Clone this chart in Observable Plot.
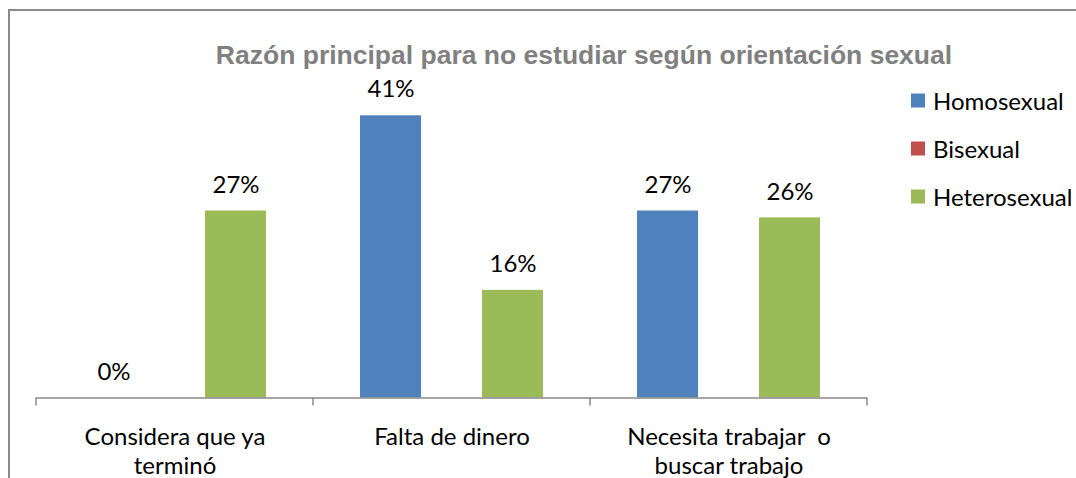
<!DOCTYPE html>
<html>
<head>
<meta charset="utf-8">
<script src="https://cdn.jsdelivr.net/npm/d3@7"></script>
<script src="https://cdn.jsdelivr.net/npm/@observablehq/plot@0.6"></script>
<style>
  html, body { margin: 0; padding: 0; background: #fff; }
  #wrap { position: relative; width: 1076px; height: 478px; overflow: hidden; background: #fff; }
  #border { position: absolute; left: 8px; top: 9px; width: 1200px; height: 600px; border: 2px solid #8a8a8a; box-sizing: border-box; }
  #title { position: absolute; left: 584px; top: 42px; transform: translateX(-50%); white-space: nowrap;
           font-family: "Liberation Sans", Arial, sans-serif; font-weight: bold; font-size: 26.5px; line-height: 1; color: #808080; }
  #chart { position: absolute; left: 0; top: 0; }
  #legend { position: absolute; left: 911px; top: 0; font-family: Lato, sans-serif; font-size: 24px; color: #000; }
  .item { position: absolute; left: 0; display: flex; align-items: center; white-space: nowrap; transform: translateY(-50%); }
  .sw { width: 14px; height: 14px; margin-right: 8px; }
</style>
</head>
<body>
<div id="wrap">
  <div id="border"></div>
  <div id="chart"></div>
  <div id="title"></div>
  <div id="legend"></div>
</div>
<script>
const titleText = "Razón principal para no estudiar según orientación sexual";
const categories = ["Considera que ya\nterminó", "Falta de dinero", "Necesita trabajar  o\nbuscar trabajo"];
const series = ["Homosexual", "Bisexual", "Heterosexual"];
const homosexual = [0, 40.9, 27.1];
const bisexual = [null, null, null];
const heterosexual = [27.1, 15.6, 26.1];
const colors = ["#4F81BD", "#C0504D", "#9BBB59"];

const seriesValues = [homosexual, bisexual, heterosexual];
const rows = [];
categories.forEach((c, i) => {
  series.forEach((s, j) => {
    const v = seriesValues[j][i];
    if (v != null) rows.push({category: c, series: s, value: v});
  });
});

const plot = Plot.plot({
  width: 880,
  height: 478,
  marginLeft: 36,
  marginRight: 13,
  marginTop: 87,
  marginBottom: 80.5,
  style: {fontFamily: "Lato, sans-serif", fontSize: "24px", background: "transparent", overflow: "visible"},
  fx: {domain: categories, padding: 0, label: null},
  x: {domain: series, paddingInner: 0, paddingOuter: 0.734, axis: null},
  y: {domain: [0, 45], axis: null},
  color: {domain: series, range: colors},
  marks: [
    Plot.barY(rows, {fx: "category", x: "series", y: "value", fill: "series"}),
    Plot.text(rows, {fx: "category", x: "series", y: "value", text: d => Math.round(d.value) + "%", dy: -26, fill: "black", fontSize: 24}),
    Plot.ruleY([0], {stroke: "#888", strokeWidth: 1.5}),
    Plot.axisFx({anchor: "bottom", tickSize: 0, tickPadding: 27, lineHeight: 1.2, fontSize: 24, fill: "black", label: null})
  ]
});

document.getElementById("chart").appendChild(plot);

// Category boundary ticks from the fx and y scales
const fx = plot.scale("fx");
const ys = plot.scale("y");
const y0 = ys.apply(0);
const bounds = categories.map(c => fx.apply(c));
bounds.push(fx.apply(categories[categories.length - 1]) + fx.bandwidth);
const svg = d3.select(plot);
svg.append("g").selectAll("line").data(bounds).join("line")
  .attr("x1", d => d).attr("x2", d => d)
  .attr("y1", y0).attr("y2", y0 + 8)
  .attr("stroke", "#888").attr("stroke-width", 1.5);

document.getElementById("title").textContent = titleText;

const legendY = [100, 148, 196];
const legend = document.getElementById("legend");
series.forEach((s, i) => {
  const item = document.createElement("div");
  item.className = "item";
  item.style.top = legendY[i] + "px";
  const sw = document.createElement("div");
  sw.className = "sw";
  sw.style.background = colors[i];
  const t = document.createElement("span");
  t.textContent = s;
  item.appendChild(sw);
  item.appendChild(t);
  legend.appendChild(item);
});
</script>
</body>
</html>
